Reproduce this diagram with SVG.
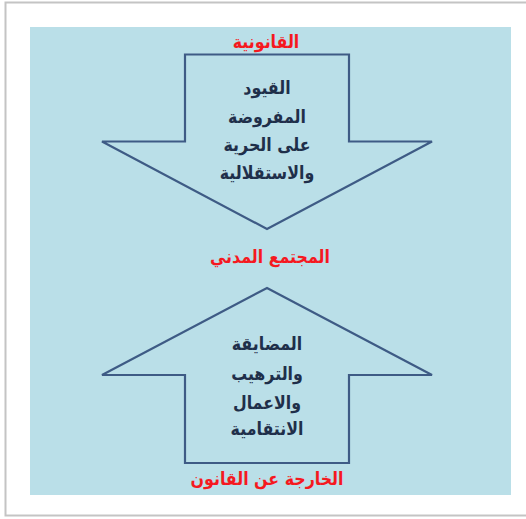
<svg xmlns="http://www.w3.org/2000/svg" width="526" height="519" viewBox="0 0 526 519">
<style>
.arrow{fill:#badfe8;stroke:#3e5b85;stroke-width:2.2;stroke-linejoin:miter}
.body{font-family:"DejaVu Sans",sans-serif;font-weight:bold;font-size:18px;fill:#1f2f4a;text-anchor:middle}
.red{font-family:"DejaVu Sans",sans-serif;font-weight:bold;font-size:18px;fill:#f5191f;text-anchor:middle}
</style>
<rect x="0" y="0" width="526" height="519" fill="#ffffff"/>
<rect x="5.5" y="2.5" width="530" height="513" fill="#ffffff" stroke="#c4c4c4" stroke-width="2"/>
<rect x="30" y="27" width="481" height="468" fill="#badfe8"/>
<g id="connectors"></g>
<g id="down-arrow">
<polygon class="arrow" points="185,54.5 349,54.5 349,141.5 432,141.5 267,229 102,141.5 185,141.5"/>
<text class="body" transform="translate(267,94) scale(0.88,1)">القيود</text>
<text class="body" transform="translate(267,123) scale(0.88,1)">المفروضة</text>
<text class="body" transform="translate(267,151) scale(0.88,1)">على الحرية</text>
<text class="body" transform="translate(267,179) scale(0.88,1)">والاستقلالية</text>
</g>
<g id="up-arrow">
<polygon class="arrow" points="267,288 432,375 349,375 349,463 185,463 185,375 102,375"/>
<text class="body" transform="translate(267,350) scale(0.88,1)">المضايقة</text>
<text class="body" transform="translate(267,380) scale(0.88,1)">والترهيب</text>
<text class="body" transform="translate(267,409) scale(0.88,1)">والاعمال</text>
<text class="body" transform="translate(267,435) scale(0.88,1)">الانتقامية</text>
</g>
<g id="label-top"><text class="red" transform="translate(266,48) scale(0.88,1)">القانونية</text></g>
<g id="label-middle"><text class="red" transform="translate(270,263) scale(0.88,1)">المجتمع المدني</text></g>
<g id="label-bottom"><text class="red" transform="translate(267,485) scale(0.88,1)">الخارجة عن القانون</text></g>
</svg>
